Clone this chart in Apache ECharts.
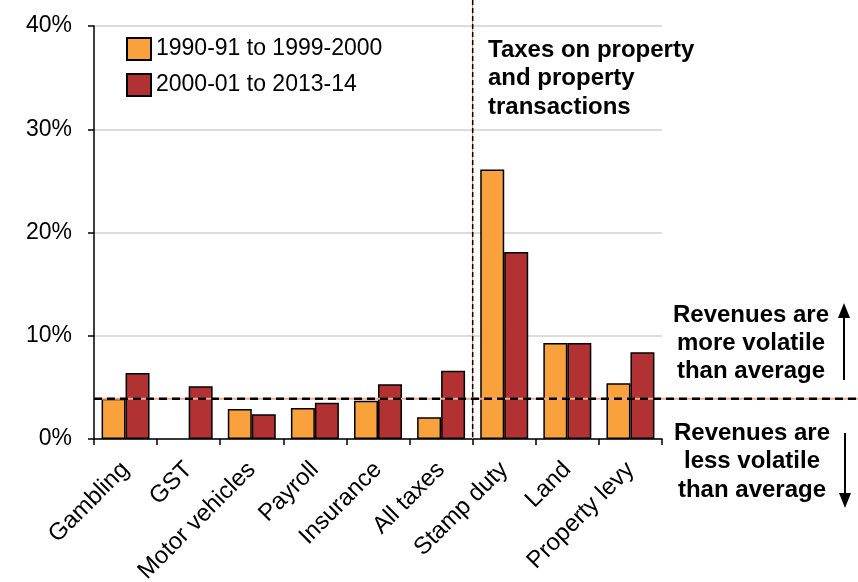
<!DOCTYPE html>
<html>
<head>
<meta charset="utf-8">
<script src="https://cdn.jsdelivr.net/npm/echarts@6/dist/echarts.min.js"></script>
<style>
  html, body { margin: 0; padding: 0; background: #ffffff; }
  #chart { width: 858px; height: 582px; }
</style>
</head>
<body>
<div id="chart"></div>
<script>
// ---- Data ----
const categories = ['Gambling', 'GST', 'Motor vehicles', 'Payroll', 'Insurance', 'All taxes', 'Stamp duty', 'Land', 'Property levy'];
const series1990s = [3.9, null, 2.9, 3.0, 3.7, 2.1, 26.1, 9.3, 5.4];
const series2000s = [6.4, 5.1, 2.4, 3.5, 5.3, 6.6, 18.1, 9.3, 8.4];
const seriesNames = ['1990-91 to 1999-2000', '2000-01 to 2013-14'];
const averageVolatility = 3.9;
const yMin = 0, yMax = 40, yInterval = 10;
const propertyStartCategory = 'Stamp duty';
const propertyHeading = 'Taxes on property\nand property\ntransactions';
const aboveText = 'Revenues are\nmore volatile\nthan average';
const belowText = 'Revenues are\nless volatile\nthan average';

// ---- Styles ----
const FONT = 'Liberation Sans, Arial, Helvetica, sans-serif';
const ORANGE = '#F9A13D';
const RED = '#B23234';

const chart = echarts.init(document.getElementById('chart'), null, { renderer: 'canvas' });

const option = {
  animation: false,
  backgroundColor: '#ffffff',
  textStyle: { fontFamily: FONT },
  grid: { left: 94, right: 196, top: 26, bottom: 143, containLabel: false, outerBoundsMode: 'none' },
  legend: {
    orient: 'vertical',
    left: 126, top: 37,
    padding: 0,
    itemWidth: 24, itemHeight: 22, itemGap: 12,
    icon: 'rect',
    textStyle: { fontFamily: FONT, fontSize: 23, color: '#000' },
    data: seriesNames
  },
  xAxis: {
    type: 'category',
    data: categories,
    axisLine: { show: true, lineStyle: { color: '#000', width: 1.5 } },
    axisTick: { show: true, length: 6, lineStyle: { color: '#000', width: 1.5 } },
    axisLabel: { rotate: 45, fontSize: 24, color: '#000', fontFamily: FONT, margin: 27, interval: 0 },
    splitLine: { show: false }
  },
  yAxis: {
    type: 'value',
    min: yMin, max: yMax, interval: yInterval,
    axisLine: { show: true, lineStyle: { color: '#000', width: 1.5 } },
    axisTick: { show: true, length: 6, lineStyle: { color: '#000', width: 1.5 } },
    axisLabel: { formatter: '{value}%', fontSize: 23, color: '#000', fontFamily: FONT, margin: 22 },
    splitLine: { show: true, lineStyle: { color: '#d0d0d0', width: 1.5 } }
  },
  series: [
    {
      name: seriesNames[0], type: 'bar', data: series1990s,
      barGap: '0%', barCategoryGap: '24%',
      itemStyle: { color: ORANGE, borderColor: '#000', borderWidth: 1.5 }
    },
    {
      name: seriesNames[1], type: 'bar', data: series2000s,
      barGap: '0%', barCategoryGap: '24%',
      itemStyle: { color: RED, borderColor: '#000', borderWidth: 1.5 }
    }
  ]
};
chart.setOption(option);

// ---- Reference lines & annotations (positions derived from the axes) ----
const idx = categories.indexOf(propertyStartCategory);
const xA = chart.convertToPixel({ xAxisIndex: 0 }, categories[idx - 1]);
const xB = chart.convertToPixel({ xAxisIndex: 0 }, categories[idx]);
const xDiv = (xA + xB) / 2;
const yAvg = chart.convertToPixel({ yAxisIndex: 0 }, averageVolatility);
const yZero = chart.convertToPixel({ yAxisIndex: 0 }, 0);
const xLeft = chart.convertToPixel({ xAxisIndex: 0 }, categories[0]) - (xB - xA) / 2;

const boldFont = 'bold 24px ' + FONT;
const arrowX = 844;

chart.setOption({
  graphic: [
    // vertical divider
    { type: 'line', z: 100, shape: { x1: xDiv, y1: 0, x2: xDiv, y2: yZero },
      style: { stroke: '#E8743B', lineWidth: 1 } },
    { type: 'line', z: 101, shape: { x1: xDiv, y1: 0, x2: xDiv, y2: yZero },
      style: { stroke: '#000', lineWidth: 1.5, lineDash: [5, 3] } },
    // average line
    { type: 'line', z: 100, shape: { x1: xLeft, y1: yAvg, x2: 858, y2: yAvg },
      style: { stroke: '#F2A98A', lineWidth: 2 } },
    { type: 'line', z: 101, shape: { x1: xLeft, y1: yAvg, x2: 858, y2: yAvg },
      style: { stroke: '#000', lineWidth: 2.5, lineDash: [8, 5] } },
    // heading
    { type: 'text', z: 110, left: 488, top: 36,
      style: { text: propertyHeading, font: boldFont, fill: '#000', lineHeight: 28.5 } },
    // above / below annotations
    { type: 'text', z: 110, x: 751, y: 301,
      style: { text: aboveText, font: boldFont, fill: '#000', lineHeight: 28, textAlign: 'center', textVerticalAlign: 'top' } },
    { type: 'text', z: 110, x: 752, y: 419,
      style: { text: belowText, font: boldFont, fill: '#000', lineHeight: 28.5, textAlign: 'center', textVerticalAlign: 'top' } },
    // up arrow
    { type: 'line', z: 110, shape: { x1: arrowX, y1: 314, x2: arrowX, y2: 380 },
      style: { stroke: '#000', lineWidth: 2 } },
    { type: 'polygon', z: 110, shape: { points: [[arrowX, 303], [arrowX - 6, 318], [arrowX + 6, 318]] },
      style: { fill: '#000' } },
    // down arrow
    { type: 'line', z: 110, shape: { x1: arrowX + 1, y1: 433, x2: arrowX + 1, y2: 496 },
      style: { stroke: '#000', lineWidth: 2 } },
    { type: 'polygon', z: 110, shape: { points: [[arrowX + 1, 508], [arrowX - 5, 493], [arrowX + 7, 493]] },
      style: { fill: '#000' } }
  ]
});
</script>
</body>
</html>
